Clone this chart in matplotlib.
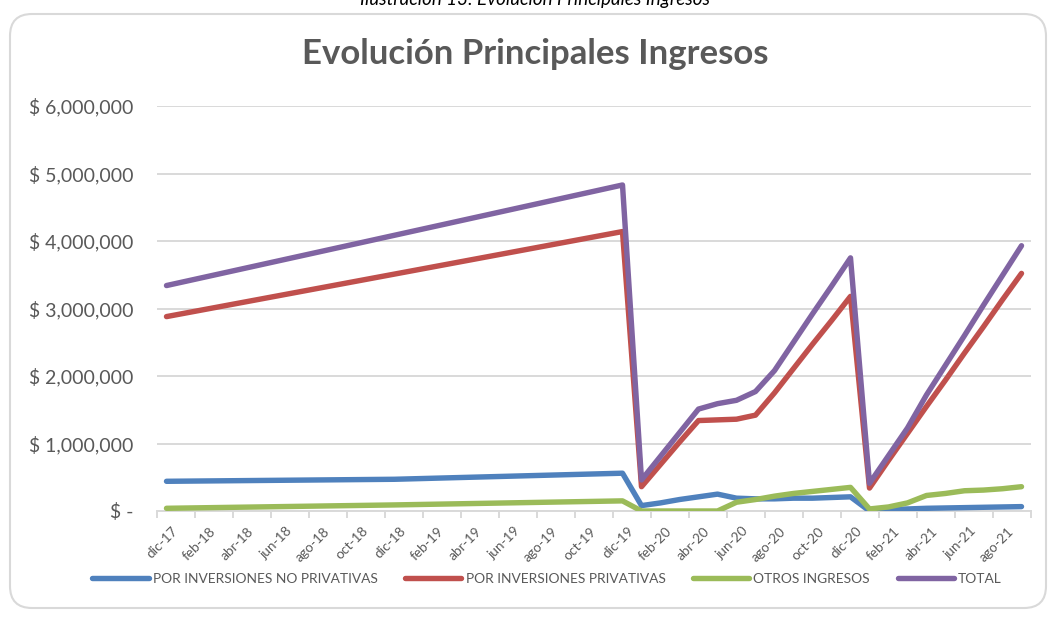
import matplotlib
matplotlib.use('Agg')
import matplotlib.pyplot as plt
from matplotlib.patches import FancyBboxPatch
from matplotlib.lines import Line2D
from matplotlib.transforms import IdentityTransform, ScaledTranslation
from matplotlib.ticker import FuncFormatter

plt.rcParams['font.family'] = ['Lato', 'DejaVu Sans']

# ---------------- data ----------------
fechas = ['dic-17', 'dic-18', 'dic-19',
          'ene-20', 'feb-20', 'mar-20', 'abr-20', 'may-20', 'jun-20',
          'jul-20', 'ago-20', 'sep-20', 'oct-20', 'nov-20', 'dic-20',
          'ene-21', 'feb-21', 'mar-21', 'abr-21', 'may-21', 'jun-21',
          'jul-21', 'ago-21', 'sep-21']

no_privativas = [440000, 470000, 560000,
                 80000, 120000, 170000, 210000, 250000, 190000,
                 180000, 180000, 190000, 190000, 200000, 210000,
                 0, 20000, 30000, 40000, 45000, 50000,
                 55000, 60000, 65000]

privativas = [2880000, 3510000, 4140000,
              360000, 690000, 1020000, 1340000, 1350000, 1360000,
              1420000, 1750000, 2110000, 2470000, 2820000, 3180000,
              340000, 750000, 1150000, 1550000, 1940000, 2340000,
              2730000, 3130000, 3520000]

otros = [40000, 90000, 150000,
         0, 0, 0, 0, 0, 130000,
         170000, 220000, 260000, 290000, 320000, 350000,
         30000, 60000, 120000, 230000, 260000, 300000,
         310000, 330000, 360000]

total = [3340000, 4085000, 4830000,
         460000, 810000, 1160000, 1510000, 1590000, 1640000,
         1770000, 2080000, 2500000, 2920000, 3330000, 3750000,
         410000, 820000, 1230000, 1720000, 2160000, 2600000,
         3050000, 3490000, 3930000]

tick_labels = ['dic-17', 'feb-18', 'abr-18', 'jun-18', 'ago-18', 'oct-18',
               'dic-18', 'feb-19', 'abr-19', 'jun-19', 'ago-19', 'oct-19',
               'dic-19', 'feb-20', 'abr-20', 'jun-20', 'ago-20', 'oct-20',
               'dic-20', 'feb-21', 'abr-21', 'jun-21', 'ago-21']

series_names = ['POR INVERSIONES NO PRIVATIVAS', 'POR INVERSIONES PRIVATIVAS',
                'OTROS INGRESOS', 'TOTAL']
colors = ['#4F81BD', '#C0504D', '#9BBB59', '#8064A2']

MESES = ['ene', 'feb', 'mar', 'abr', 'may', 'jun',
         'jul', 'ago', 'sep', 'oct', 'nov', 'dic']


def month_index(lbl):
    m, y = lbl.split('-')
    return (2000 + int(y) - 2017) * 12 + MESES.index(m) - 11


x = [month_index(f) for f in fechas]

# ---------------- figure ----------------
W, H = 1049, 618
fig = plt.figure(figsize=(W / 100, H / 100), dpi=100)

# outer rounded border
border = FancyBboxPatch((10, H - 608), 1036, 594,
                        boxstyle='round,pad=0,rounding_size=22',
                        transform=IdentityTransform(),
                        facecolor='white', edgecolor='#d9d9d9', lw=1.5,
                        zorder=0)
fig.add_artist(border)

# caption (cut off at the top, as in the source document)
fig.text(535 / W, 1 - 5 / H, 'Ilustración 13: Evolución Principales Ingresos',
         ha='center', va='baseline', fontsize=13.5, style='italic',
         color='black')

fig.text(535 / W, 1 - 54 / H, 'Evolución Principales Ingresos',
         ha='center', va='center', fontsize=25, fontweight='bold',
         color='#595959')

ax = fig.add_axes([157 / W, 1 - 511 / H, (1031 - 157) / W, (511 - 106) / H])
ax.patch.set_alpha(0)

for vals, c in zip([no_privativas, privativas, otros, total], colors):
    ax.plot(x, vals, color=c, lw=3.9, solid_capstyle='round',
            solid_joinstyle='round', zorder=3)

last = month_index(fechas[-1])
ax.set_xlim(-0.5, last + 0.5)
ax.set_ylim(0, 6000000)

# y axis
ax.set_yticks(range(0, 6000001, 1000000))
ax.yaxis.set_major_formatter(FuncFormatter(
    lambda v, p: '$ -' if v == 0 else '$ {:,.0f}'.format(v)))
ax.tick_params(axis='y', length=0, pad=17, labelsize=14,
               labelcolor='#595959')
ax.yaxis.grid(True, color='#d9d9d9', lw=1.4)
ax.set_axisbelow(True)

# x axis
tpos = [month_index(t) for t in tick_labels]
ax.set_xticks(tpos)
ax.set_xticklabels(tick_labels, rotation=45, ha='right', va='top',
                   rotation_mode='anchor', fontsize=9.8, color='#595959')
ax.tick_params(axis='x', which='major', length=0, pad=10)
offset = ScaledTranslation(5 / 100, 0, fig.dpi_scale_trans)
for lab in ax.get_xticklabels():
    lab.set_transform(lab.get_transform() + offset)
ax.set_xticks([p - 0.5 for p in range(0, last + 2, 2)], minor=True)
ax.tick_params(axis='x', which='minor', length=5, width=1.4,
               color='#d9d9d9')

for s in ['left', 'right', 'top']:
    ax.spines[s].set_visible(False)
ax.spines['bottom'].set_color('#d9d9d9')
ax.spines['bottom'].set_linewidth(1.4)

# legend
handles = [Line2D([], [], color=c, lw=3.9, solid_capstyle='round')
           for c in colors]
leg = fig.legend(handles, series_names, loc='center',
                 bbox_to_anchor=(547 / W, 1 - 579 / H), ncol=4,
                 frameon=False, handlelength=4.1, handletextpad=0.3,
                 columnspacing=2.0, fontsize=9.9)
for t in leg.get_texts():
    t.set_color('#595959')

fig.savefig('out.png', dpi=100)
